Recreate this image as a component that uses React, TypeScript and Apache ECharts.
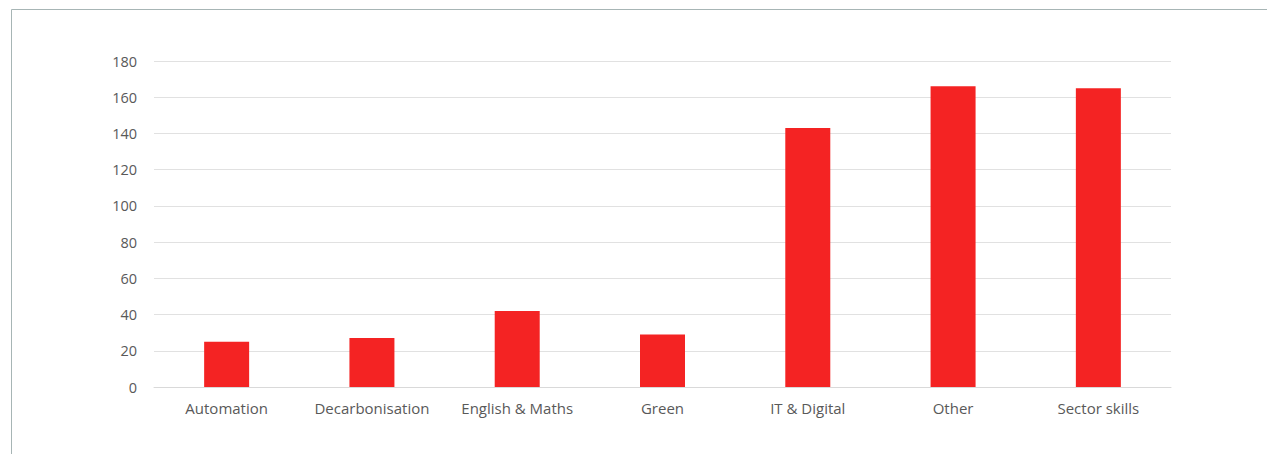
import React, { useEffect, useRef } from "react";
import * as echarts from "echarts";

const categories = ["Automation", "Decarbonisation", "English & Maths", "Green", "IT & Digital", "Other", "Sector skills"];
const values = [25, 27, 42, 29, 143, 166, 165];
const yTicks = { min: 0, max: 180, interval: 20 };

export default function App() {
  const ref = useRef<HTMLDivElement>(null);
  useEffect(() => {
    document.body.style.margin = "0";
    const chart = echarts.init(ref.current!, null, { renderer: "svg" });
    chart.setOption({
      animation: false,
      textStyle: { fontFamily: "Open Sans" },
      graphic: [
        {
          type: "rect",
          shape: { x: 11.5, y: 9.5, width: 1400, height: 600 },
          style: { fill: "none", stroke: "#a7b5b5", lineWidth: 1 },
          silent: true,
        },
      ],
      grid: { left: 154, right: 96, top: 61, bottom: 67 },
      xAxis: {
        type: "category",
        data: categories,
        axisLine: { show: true, lineStyle: { color: "#d9d9d9", width: 1 } },
        axisTick: { show: false },
        axisLabel: { color: "#595959", fontSize: 15, margin: 13, interval: 0 },
      },
      yAxis: {
        type: "value",
        min: yTicks.min,
        max: yTicks.max,
        interval: yTicks.interval,
        axisLine: { show: false },
        axisTick: { show: false },
        splitLine: { lineStyle: { color: "#e1e1e1", width: 1 } },
        axisLabel: { color: "#595959", fontSize: 14.5, margin: 17 },
      },
      series: [
        {
          type: "bar",
          data: values,
          barWidth: 45,
          itemStyle: { color: "#F42323" },
        },
      ],
    });
    return () => chart.dispose();
  }, []);
  return <div ref={ref} style={{ width: 1267, height: 454 }} />;
}
